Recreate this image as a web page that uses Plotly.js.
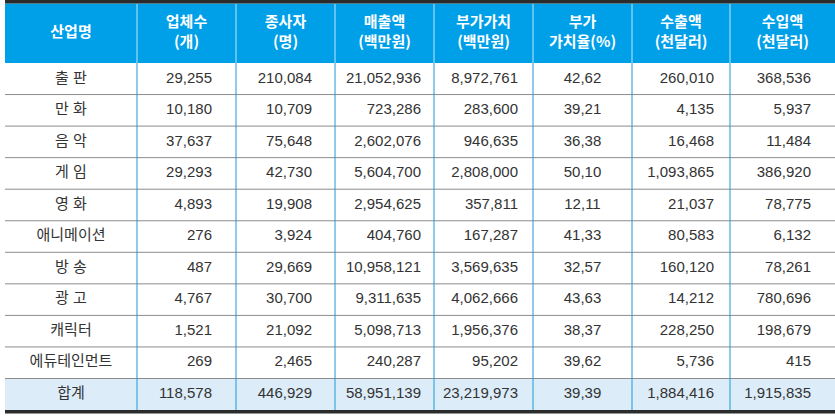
<!DOCTYPE html>
<html>
<head>
<meta charset="utf-8">
<script src="https://cdn.plot.ly/plotly-3.0.1.min.js"></script>
<style>
  html, body { margin: 0; padding: 0; background: #fff; }
  #chart { width: 835px; height: 418px; }
</style>
</head>
<body>
<div id="chart"></div>
<script>
// --- data ---
const industries = ['출 판', '만 화', '음 악', '게 임', '영 화', '애니메이션', '방 송', '광 고', '캐릭터', '에듀테인먼트', '합계'];
const firms = [29255, 10180, 37637, 29293, 4893, 276, 487, 4767, 1521, 269, 118578];
const workers = [210084, 10709, 75648, 42730, 19908, 3924, 29669, 30700, 21092, 2465, 446929];
const sales = [21052936, 723286, 2602076, 5604700, 2954625, 404760, 10958121, 9311635, 5098713, 240287, 58951139];
const valueAdded = [8972761, 283600, 946635, 2808000, 357811, 167287, 3569635, 4062666, 1956376, 95202, 23219973];
const valueRate = [42.62, 39.21, 36.38, 50.10, 12.11, 41.33, 32.57, 43.63, 38.37, 39.62, 39.39];
const exportsK = [260010, 4135, 16468, 1093865, 21037, 80583, 160120, 14212, 228250, 5736, 1884416];
const importsK = [368536, 5937, 11484, 386920, 78775, 6132, 78261, 780696, 198679, 415, 1915835];
const headers = ['산업명', '업체수<br>(개)', '종사자<br>(명)', '매출액<br>(백만원)', '부가가치<br>(백만원)',
  '부가<br>가치율(%)', '수출액<br>(천달러)', '수입액<br>(천달러)'];

// --- geometry (px) ---
const W = 835, H = 418;
const tableLeft = 5;
const colWidths = [132, 99, 99, 99, 99, 99, 98, 105];
const colAlign = ['center', 'right', 'right', 'right', 'right', 'center', 'right', 'right'];
const colPadRight = [0, 24, 23, 13, 15, 0, 16, 24];
const ruleWidth = 3.5;
const headerHeight = 59.5;
const rowHeight = 31.55;

const edges = [tableLeft];
colWidths.forEach(w => edges.push(edges[edges.length - 1] + w));
const headerTop = ruleWidth;
const headerBottom = headerTop + headerHeight;
const rowTop = i => headerBottom + i * rowHeight;
const nRows = industries.length;

const BODY_FONT = '"Liberation Sans", "Noto Sans CJK KR", sans-serif';
const HEAD_FONT = '"Noto Sans CJK KR", "Liberation Sans", sans-serif';

const fmt = v => v.toLocaleString('en-US');
const fmtRate = v => v.toFixed(2).replace('.', ',');

const columns = [
  industries,
  firms.map(fmt),
  workers.map(fmt),
  sales.map(fmt),
  valueAdded.map(fmt),
  valueRate.map(fmtRate),
  exportsK.map(fmt),
  importsK.map(fmt),
];

const colX = c => colAlign[c] === 'center'
  ? (edges[c] + edges[c + 1]) / 2
  : edges[c + 1] - colPadRight[c];

const traces = columns.map((vals, c) => ({
  type: 'scatter',
  mode: 'text',
  x: vals.map(() => colX(c)),
  y: vals.map((_, i) => rowTop(i) + rowHeight / 2),
  text: vals,
  textposition: colAlign[c] === 'center' ? 'middle center' : 'middle left',
  textfont: { family: BODY_FONT, size: 15, color: '#333' },
  hoverinfo: 'skip',
  cliponaxis: false,
}));

traces.push({
  type: 'scatter',
  mode: 'text',
  x: headers.map((_, c) => (edges[c] + edges[c + 1]) / 2),
  y: headers.map(() => headerTop + headerHeight / 2),
  text: headers,
  textposition: 'middle center',
  textfont: { family: HEAD_FONT, size: 15, color: '#fff', weight: 'bold' },
  hoverinfo: 'skip',
  cliponaxis: false,
});

// --- table frame ---
const shapes = [];
const rect = (x0, x1, y0, y1, color) => shapes.push({
  type: 'rect', xref: 'x', yref: 'y', x0, x1, y0, y1,
  fillcolor: color, line: { width: 0 }, layer: 'below',
});
const line = (x0, x1, y0, y1, color) => shapes.push({
  type: 'line', xref: 'x', yref: 'y', x0, x1, y0, y1,
  line: { color, width: 1 }, layer: 'below',
});

rect(tableLeft, W, headerTop, headerBottom, '#00a0e9');
rect(tableLeft, W, rowTop(nRows - 1), rowTop(nRows), '#dcedf9');
for (let i = 1; i < nRows; i++) line(tableLeft, W, rowTop(i), rowTop(i), '#8c8c8c');
for (let c = 1; c < colWidths.length; c++) {
  line(edges[c], edges[c], headerTop, headerBottom, '#bfe6f8');
  line(edges[c], edges[c], headerBottom, rowTop(nRows), '#1b9ad6');
}
rect(tableLeft, W, 0, ruleWidth, '#2b2b2b');
rect(tableLeft, W, rowTop(nRows), rowTop(nRows) + ruleWidth, '#2b2b2b');

const layout = {
  width: W,
  height: H,
  margin: { l: 0, r: 0, t: 0, b: 0 },
  paper_bgcolor: '#fff',
  plot_bgcolor: '#fff',
  showlegend: false,
  xaxis: { range: [0, W], visible: false, fixedrange: true },
  yaxis: { range: [H, 0], visible: false, fixedrange: true },
  shapes,
};

Plotly.newPlot('chart', traces, layout, { staticPlot: true, displayModeBar: false });
</script>
</body>
</html>
